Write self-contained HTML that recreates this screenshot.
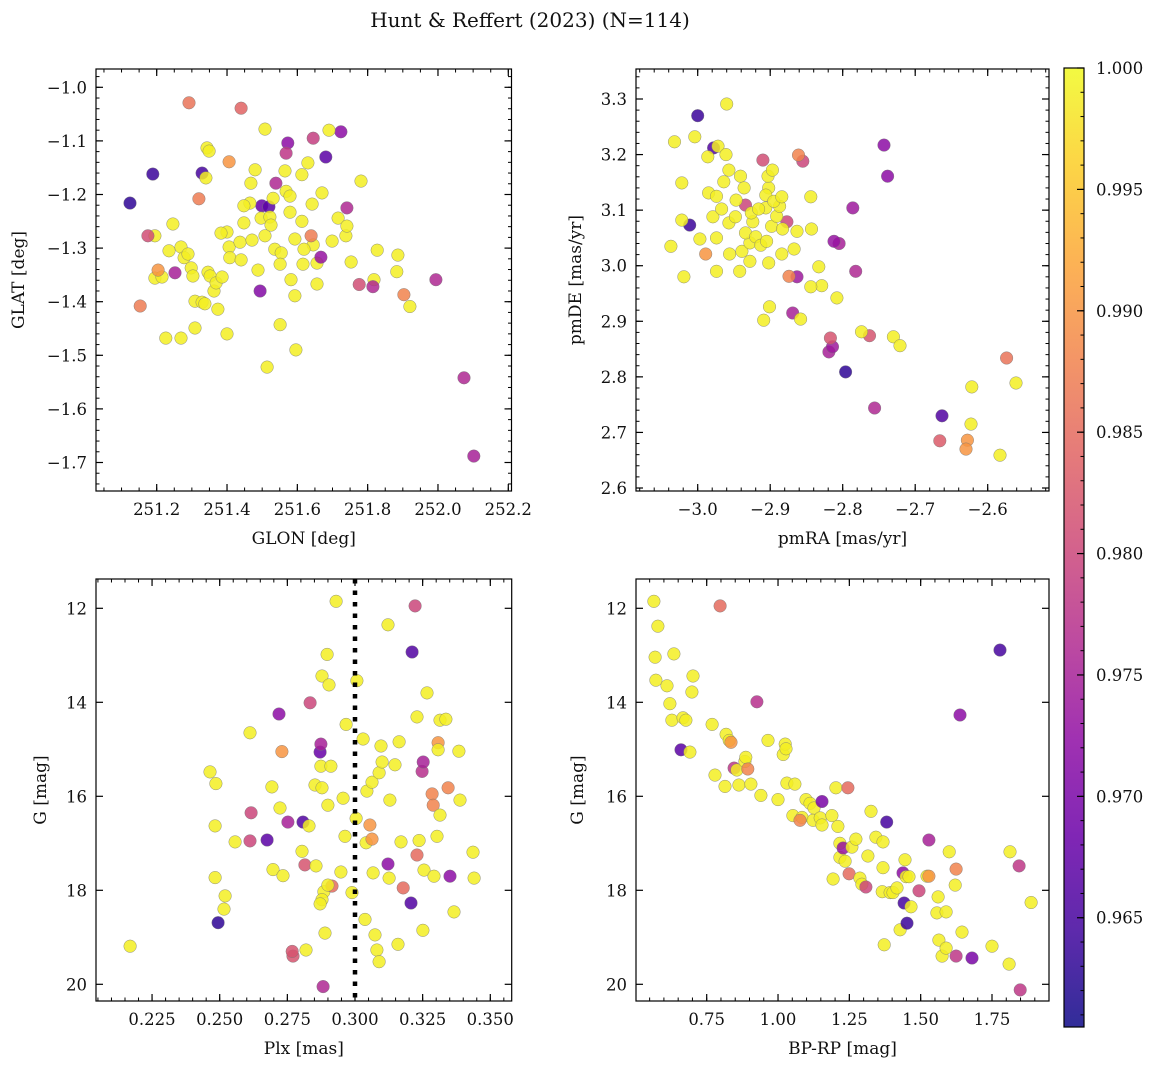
<!DOCTYPE html>
<html><head><meta charset="utf-8"><style>
body{margin:0;background:#fff;}
svg{display:block;font-family:"DejaVu Serif","Liberation Serif",serif;}
</style></head><body>
<svg id="fig" width="1161" height="1068" viewBox="0 0 1161 1068" xmlns="http://www.w3.org/2000/svg">
<text x="530" y="27" font-size="20" text-anchor="middle" fill="#111">Hunt &amp; Reffert (2023) (N=114)</text>
</svg>
<script>
// ---- data (each point: [x, y, membership probability]) ----
const skyPoints = [
[251.124,-1.216,.963],[251.189,-1.162,.964],[251.292,-1.029,.986],[251.440,-1.039,.984],[251.329,-1.160,.965],
[251.340,-1.169,.999],[251.343,-1.113,.999],[251.349,-1.119,.999],[251.406,-1.139,.99],[251.320,-1.208,.987],
[251.508,-1.078,.999],[251.573,-1.104,.972],[251.568,-1.123,.978],[251.645,-1.095,.979],[251.724,-1.083,.972],
[251.681,-1.130,.967],[251.690,-1.080,.999],[251.539,-1.179,.976],[251.499,-1.221,.968],[251.519,-1.223,.967],
[251.480,-1.154,.999],[251.246,-1.255,.999],[251.195,-1.277,.999],[251.175,-1.277,.981],[251.195,-1.356,.999],
[251.215,-1.354,.999],[251.235,-1.305,.999],[251.269,-1.298,.999],[251.278,-1.318,.999],[251.289,-1.311,.999],
[251.298,-1.337,.999],[251.303,-1.352,.999],[251.309,-1.399,.999],[251.269,-1.468,.999],[251.226,-1.468,.999],
[251.309,-1.449,.999],[251.329,-1.401,.999],[251.337,-1.404,.999],[251.346,-1.345,.999],[251.352,-1.352,.999],
[251.363,-1.380,.999],[251.369,-1.365,.999],[251.374,-1.414,.999],[251.386,-1.354,.999],[251.400,-1.270,.999],
[251.406,-1.298,.999],[251.408,-1.318,.999],[251.383,-1.272,.999],[251.400,-1.460,.999],[251.437,-1.289,.999],
[251.440,-1.322,.999],[251.448,-1.253,.999],[251.465,-1.216,.999],[251.471,-1.285,.999],[251.488,-1.341,.999],
[251.497,-1.244,.999],[251.508,-1.277,.999],[251.522,-1.242,.999],[251.531,-1.207,.999],[251.536,-1.302,.999],
[251.554,-1.309,.999],[251.551,-1.330,.999],[251.568,-1.194,.999],[251.579,-1.233,.999],[251.565,-1.156,.999],
[251.582,-1.359,.999],[251.593,-1.389,.999],[251.616,-1.330,.999],[251.613,-1.250,.999],[251.593,-1.283,.999],
[251.642,-1.218,.999],[251.645,-1.294,.999],[251.656,-1.328,.999],[251.630,-1.141,.999],[251.670,-1.197,.999],
[251.699,-1.287,.999],[251.716,-1.244,.999],[251.738,-1.277,.999],[251.741,-1.259,.999],[251.781,-1.175,.999],
[251.753,-1.326,.999],[251.827,-1.304,.999],[251.818,-1.359,.999],[251.886,-1.313,.999],[251.883,-1.344,.999],
[251.920,-1.409,.999],[251.656,-1.367,.999],[251.514,-1.522,.999],[251.551,-1.443,.999],[251.596,-1.490,.999],
[251.525,-1.257,.999],[251.579,-1.203,.999],[251.619,-1.302,.999],[251.468,-1.179,.999],[251.613,-1.163,.999],
[251.448,-1.221,.999],[251.153,-1.408,.987],[251.252,-1.346,.975],[251.639,-1.277,.987],[251.776,-1.368,.981],
[251.815,-1.372,.976],[251.741,-1.225,.976],[251.903,-1.387,.988],[251.994,-1.359,.976],[252.074,-1.542,.976],
[252.102,-1.688,.975],[251.667,-1.317,.973],[251.494,-1.380,.971],[251.204,-1.341,.99]
];
const pmPoints = [
[-3.0,3.27,.964],[-3.011,3.073,.964],[-2.978,3.212,.966],[-2.796,2.809,.963],[-2.663,2.730,.966],
[-2.743,3.217,.972],[-2.738,3.161,.972],[-2.786,3.104,.974],[-2.782,2.99,.976],[-2.805,3.04,.975],
[-2.812,3.044,.973],[-2.863,2.98,.974],[-2.869,2.915,.975],[-2.819,2.845,.975],[-2.814,2.854,.974],
[-2.756,2.744,.976],[-2.91,3.19,.981],[-2.855,3.188,.98],[-2.763,2.874,.982],[-2.817,2.87,.982],
[-2.666,2.685,.983],[-2.574,2.834,.986],[-2.877,3.079,.98],[-2.934,3.109,.98],[-2.861,3.199,.988],
[-2.989,3.021,.99],[-2.874,2.981,.988],[-2.628,2.686,.99],[-2.63,2.67,.99],
[-2.96,3.291,.999],[-3.032,3.223,.999],[-3.004,3.232,.999],[-2.972,3.215,.999],[-3.022,3.149,.999],
[-3.037,3.035,.999],[-3.019,2.98,.999],[-3.022,3.082,.999],[-2.997,3.048,.999],[-2.979,3.088,.999],
[-2.985,3.131,.999],[-2.974,3.125,.999],[-2.964,3.151,.999],[-2.986,3.196,.999],[-2.961,3.2,.999],
[-2.957,3.172,.999],[-2.941,3.161,.999],[-2.936,3.14,.999],[-2.947,3.118,.999],[-2.967,3.102,.999],
[-2.957,3.077,.999],[-2.948,3.088,.999],[-2.974,3.05,.999],[-2.956,3.021,.999],[-2.939,3.026,.999],
[-2.928,3.041,.999],[-2.934,3.059,.999],[-2.924,3.079,.999],[-2.92,3.052,.999],[-2.913,3.037,.999],
[-2.905,3.044,.999],[-2.898,3.071,.999],[-2.891,3.089,.999],[-2.887,3.107,.999],[-2.906,3.104,.999],
[-2.902,3.14,.999],[-2.903,3.161,.999],[-2.897,3.172,.999],[-2.906,3.127,.999],[-2.895,3.116,.999],
[-2.883,3.066,.999],[-2.884,3.124,.999],[-2.928,3.008,.999],[-2.942,2.99,.999],[-2.974,2.99,.999],
[-2.902,3.005,.999],[-2.884,3.021,.999],[-2.863,3.062,.999],[-2.867,3.03,.999],[-2.844,3.124,.999],
[-2.843,3.066,.999],[-2.833,2.998,.999],[-2.829,2.964,.999],[-2.844,2.962,.999],[-2.858,2.904,.999],
[-2.808,2.942,.999],[-2.901,2.926,.999],[-2.909,2.902,.999],[-2.774,2.881,.999],[-2.73,2.872,.999],
[-2.721,2.856,.999],[-2.623,2.715,.999],[-2.622,2.782,.999],[-2.561,2.789,.999],[-2.583,2.659,.999],
[-2.926,3.095,.999],[-2.916,3.102,.999]
];
const plxPoints = [
[0.2169,19.19,.999],[0.2464,15.48,.999],[0.2486,15.73,.999],[0.2483,16.63,.999],[0.2483,17.73,.999],
[0.2494,18.69,.963],[0.2520,18.12,.999],[0.2516,18.40,.999],[0.2557,16.97,.999],[0.2612,16.95,.98],
[0.2616,16.35,.98],[0.2612,14.65,.999],[0.2675,16.93,.967],[0.2693,15.80,.999],[0.2697,17.56,.999],
[0.2734,17.69,.999],[0.2719,14.25,.972],[0.2730,15.05,.99],[0.2723,16.25,.999],[0.2752,16.55,.975],
[0.2771,19.40,.982],[0.2768,19.30,.982],[0.2804,17.17,.999],[0.2819,19.27,.999],[0.2815,17.46,.982],
[0.2808,16.55,.966],[0.2830,16.63,.999],[0.2834,14.01,.98],[0.2852,15.76,.999],[0.2856,17.48,.999],
[0.2871,15.06,.968],[0.2874,14.89,.975],[0.2878,13.44,.999],[0.2874,15.36,.999],[0.2878,15.82,.999],
[0.2885,18.03,.999],[0.2878,18.20,.999],[0.2871,18.29,.999],[0.2889,18.91,.999],[0.2882,20.05,.976],
[0.2897,12.98,.999],[0.2900,16.19,.999],[0.2904,13.63,.999],[0.2911,15.36,.999],[0.2915,17.91,.985],
[0.2900,17.89,.999],[0.2930,11.85,.999],[0.2948,17.61,.999],[0.2956,16.04,.999],[0.2963,16.85,.999],
[0.2967,14.47,.999],[0.3004,16.47,.999],[0.2989,18.05,.999],[0.3007,13.54,.999],[0.3030,14.78,.999],
[0.3041,16.99,.999],[0.3044,15.89,.999],[0.3063,15.70,.999],[0.3055,16.61,.99],[0.3063,16.91,.99],
[0.3067,17.63,.999],[0.3074,18.95,.999],[0.3081,19.27,.999],[0.3089,19.52,.999],[0.3089,15.50,.999],
[0.3096,14.93,.999],[0.3100,15.27,.999],[0.3122,17.44,.972],[0.3126,17.74,.999],[0.3122,12.35,.999],
[0.3129,16.08,.999],[0.3148,15.33,.999],[0.3159,19.15,.999],[0.3163,14.84,.999],[0.3170,16.97,.999],
[0.3178,17.95,.985],[0.3207,18.27,.966],[0.3211,12.93,.966],[0.3222,11.95,.98],[0.3229,14.31,.999],
[0.3229,17.25,.985],[0.3237,16.94,.999],[0.3251,18.85,.999],[0.3248,15.47,.977],[0.3252,15.27,.975],
[0.3255,17.57,.999],[0.3266,13.80,.999],[0.3285,15.95,.988],[0.3289,16.19,.988],[0.3292,17.70,.999],
[0.3303,16.85,.999],[0.3307,14.86,.99],[0.3307,15.01,.999],[0.3314,14.38,.999],[0.3314,16.40,.999],
[0.3336,14.36,.999],[0.3344,15.82,.988],[0.3351,17.70,.972],[0.3366,18.46,.999],[0.3384,15.04,.999],
[0.3388,16.08,.999],[0.3436,17.19,.999],[0.3440,17.74,.999],[0.3037,18.62,.999]
];
const cmdPoints = [
[0.565,11.85,.999],[0.579,12.38,.999],[0.569,13.04,.999],[0.572,13.53,.999],[0.611,13.65,.999],
[0.635,12.97,.999],[0.621,14.03,.999],[0.628,14.38,.999],[0.667,14.33,.999],[0.702,13.44,.999],
[0.698,13.78,.999],[0.660,15.01,.967],[0.691,15.06,.999],[0.677,14.38,.999],[0.769,14.47,.999],
[0.779,15.55,.999],[0.814,15.79,.999],[0.818,14.68,.999],[0.797,11.95,.985],[0.829,14.81,.999],
[0.835,14.85,.99],[0.846,15.40,.978],[0.856,15.44,.999],[0.863,15.76,.999],[0.884,15.26,.999],
[0.887,15.17,.999],[0.894,15.42,.988],[0.905,15.74,.999],[0.926,13.99,.977],[0.940,15.98,.999],
[0.965,14.81,.999],[1.0,16.07,.999],[1.018,15.11,.999],[1.025,14.89,.999],[1.028,14.99,.999],
[1.031,15.72,.999],[1.052,16.41,.999],[1.059,15.74,.999],[1.084,16.45,.999],[1.098,16.07,.999],
[1.112,16.15,.999],[1.126,16.25,.999],[1.123,16.51,.999],[1.148,16.46,.999],[1.154,16.11,.97],
[1.077,16.51,.988],[1.154,16.61,.999],[1.189,16.41,.999],[1.193,17.76,.999],[1.203,15.82,.999],
[1.210,16.64,.999],[1.217,17.00,.999],[1.217,17.30,.999],[1.228,17.10,.973],[1.245,15.82,.985],
[1.235,17.38,.999],[1.259,17.08,.999],[1.249,17.65,.985],[1.273,16.91,.999],[1.287,17.74,.999],
[1.294,17.87,.999],[1.308,17.93,.98],[1.315,17.27,.999],[1.343,16.87,.999],[1.326,16.32,.999],
[1.368,16.97,.999],[1.368,17.52,.999],[1.381,16.55,.965],[1.365,18.03,.999],[1.372,19.16,.999],
[1.393,18.05,.999],[1.403,18.05,.999],[1.417,17.95,.999],[1.428,18.84,.999],[1.438,17.63,.972],
[1.442,18.27,.965],[1.449,17.71,.999],[1.452,18.70,.964],[1.445,17.35,.999],[1.459,17.71,.999],
[1.466,18.35,.999],[1.494,18.01,.98],[1.522,17.70,.999],[1.529,17.70,.99],[1.529,16.93,.975],
[1.557,18.48,.999],[1.561,18.14,.999],[1.564,19.06,.999],[1.575,19.40,.999],[1.589,18.46,.999],
[1.589,19.23,.999],[1.600,17.18,.999],[1.621,17.89,.999],[1.624,17.55,.988],[1.624,19.40,.978],
[1.645,18.89,.999],[1.638,14.27,.972],[1.680,19.44,.97],[1.778,12.89,.965],[1.750,19.19,.999],
[1.810,19.57,.999],[1.813,17.18,.999],[1.845,17.48,.978],[1.887,18.26,.999],[1.849,20.12,.978]
];
const skyXTicks = [251.2,251.4,251.6,251.8,252.0,252.2];
const skyYTicks = [-1.0,-1.1,-1.2,-1.3,-1.4,-1.5,-1.6,-1.7];
const pmXTicks = [-3.0,-2.9,-2.8,-2.7,-2.6];
const pmYTicks = [2.6,2.7,2.8,2.9,3.0,3.1,3.2,3.3];
const plxXTicks = [0.225,0.250,0.275,0.300,0.325,0.350];
const magTicks = [12,14,16,18,20];
const cmdXTicks = [0.75,1.00,1.25,1.50,1.75];
const cbarTicks = [0.965,0.970,0.975,0.980,0.985,0.990,0.995,1.000];
const plxCut = 0.300;

const NS='http://www.w3.org/2000/svg';
const svg=document.getElementById('fig');
function mk(tag,attrs,parent){const e=document.createElementNS(NS,tag);for(const k in attrs)e.setAttribute(k,attrs[k]);(parent||svg).appendChild(e);return e;}

const plasma=[[13,8,135],[65,4,157],[106,0,168],[143,13,164],[177,42,144],[204,71,120],[225,100,98],[242,132,75],[252,166,54],[252,206,37],[240,249,33]];
const vmin=0.9605,vmax=1.0;
function cmap(v){let t=(v-vmin)/(vmax-vmin);t=Math.max(0,Math.min(1,t));const f=t*10,i=Math.min(9,Math.floor(f)),r=f-i;const a=plasma[i],b=plasma[i+1];return 'rgb('+[0,1,2].map(k=>Math.round(a[k]+(b[k]-a[k])*r)).join(',')+')';}

function fmt(v,d){return (v<0?'\u2212':'')+Math.abs(v).toFixed(d);}

function panel(o){
  const g=mk('g',{});
  
  
  const sx=v=>o.L+(v-o.x0)/(o.x1-o.x0)*(o.R-o.L);
  const sy=v=>o.B-(v-o.y0)/(o.y1-o.y0)*(o.B-o.T);
  // points
  o.pts.forEach(p=>{
    const c=mk('circle',{cx:sx(p[0]).toFixed(1),cy:sy(p[1]).toFixed(1),r:6.3,fill:cmap(p[2]),'fill-opacity':0.85,stroke:'#777','stroke-width':0.5,'stroke-opacity':0.8},g);
    
    
  });
  if(o.vline!==undefined){
    const l=mk('line',{x1:sx(o.vline),x2:sx(o.vline),y1:o.T,y2:o.B,stroke:'#000','stroke-width':4.5,'stroke-dasharray':'4.5 7'},g);
    
    
  }
  // frame
  const fr=mk('rect',{x:o.L,y:o.T,width:o.R-o.L,height:o.B-o.T,fill:'none',stroke:'#000','stroke-width':1.2},g);
  
  
  // minor ticks
  const eps=1e-9;
  for(let v=Math.ceil(o.x0/o.xm-eps)*o.xm; v<=o.x1+eps; v+=o.xm){const x=sx(v);
    mk('line',{x1:x,x2:x,y1:o.B,y2:o.B-3.5,stroke:'#000','stroke-width':1},g);mk('line',{x1:x,x2:x,y1:o.T,y2:o.T+3.5,stroke:'#000','stroke-width':1},g);}
  for(let v=Math.ceil(o.y0/o.ym-eps)*o.ym; v<=o.y1+eps; v+=o.ym){const y=sy(v);
    mk('line',{x1:o.L,x2:o.L+3.5,y1:y,y2:y,stroke:'#000','stroke-width':1},g);mk('line',{x1:o.R,x2:o.R-3.5,y1:y,y2:y,stroke:'#000','stroke-width':1},g);}
  o.xt.forEach(v=>{const x=sx(v);
    mk('line',{x1:x,x2:x,y1:o.B,y2:o.B-7,stroke:'#000','stroke-width':1.2},g);mk('line',{x1:x,x2:x,y1:o.T,y2:o.T+7,stroke:'#000','stroke-width':1.2},g);
    const t=mk('text',{x:x,y:o.B+24,'font-size':16.5,'text-anchor':'middle',fill:'#111'},g);t.textContent=fmt(v,o.xd);
    
    
  });
  o.yt.forEach(v=>{const y=sy(v);
    mk('line',{x1:o.L,x2:o.L+7,y1:y,y2:y,stroke:'#000','stroke-width':1.2},g);mk('line',{x1:o.R,x2:o.R-7,y1:y,y2:y,stroke:'#000','stroke-width':1.2},g);
    const t=mk('text',{x:o.L-9,y:y+6,'font-size':16.5,'text-anchor':'end',fill:'#111'},g);t.textContent=fmt(v,o.yd);
    
    
  });
  const xl=mk('text',{x:(o.L+o.R)/2,y:o.B+53,'font-size':17,'text-anchor':'middle',fill:'#111'},g);xl.textContent=o.xlab;
  
  
  const yx=o.ylx, yy=(o.T+o.B)/2;
  const yl=mk('text',{x:yx,y:yy,'font-size':17,'text-anchor':'middle',fill:'#111',transform:'rotate(-90 '+yx+' '+yy+')'},g);yl.textContent=o.ylab;
  
  
}

panel({name:'sky-position-panel',L:96,R:511.5,T:69,B:491,x0:251.2-60.7/351.6,x1:251.2+354.8/351.6,y0:-1.0-(491-87.3)/536,y1:-1.0+(87.3-69)/536,
  xt:skyXTicks,yt:skyYTicks,xm:0.05,ym:0.02,xd:1,yd:1,pts:skyPoints,xlab:'GLON [deg]',ylab:'GLAT [deg]',ylx:24});
panel({name:'proper-motion-panel',L:636,R:1049,T:69,B:491,x0:-3.0-61.7/725,x1:-3.0+351.3/725,y0:2.6-(491-488)/555.7,y1:3.3+(99-69)/555.7,
  xt:pmXTicks,yt:pmYTicks,xm:0.02,ym:0.02,xd:1,yd:1,pts:pmPoints,xlab:'pmRA [mas/yr]',ylab:'pmDE [mas/yr]',ylx:581});
const gA=12+(608.3-579)/47, gB=12+(1001-608.3)/47;
panel({name:'parallax-magnitude-panel',L:96,R:511.7,T:579,B:1001,x0:0.3-259/2706,x1:0.3+156.7/2706,y0:gB,y1:12-(608.3-579)/47,
  xt:plxXTicks,yt:magTicks,xm:0.005,ym:0.5,xd:3,yd:0,pts:plxPoints,xlab:'Plx [mas]',ylab:'G [mag]',ylx:46,vline:plxCut});
panel({name:'color-magnitude-panel',L:636,R:1049,T:579,B:1001,x0:0.75-70.7/285.3,x1:0.75+342.3/285.3,y0:gB,y1:12-(608.3-579)/47,
  xt:cmdXTicks,yt:magTicks,xm:0.05,ym:0.5,xd:2,yd:0,pts:cmdPoints,xlab:'BP-RP [mag]',ylab:'G [mag]',ylx:583});

// colorbar
(function(){
  const L=1064,R=1084,T=68,B=1027;
  const defs=mk('defs',{});
  const lg=mk('linearGradient',{id:'pl',x1:0,y1:1,x2:0,y2:0},defs);
  plasma.forEach((c,i)=>mk('stop',{offset:i/10,'stop-color':'rgb('+c.join(',')+')','stop-opacity':0.85},lg));
  const r=mk('rect',{x:L,y:T,width:R-L,height:B-T,fill:'url(#pl)',stroke:'#000','stroke-width':1.2});
  
  
  const sy=v=>B-(v-vmin)/(vmax-vmin)*(B-T);
  for(let v=0.961;v<=1.0005;v+=0.001){const y=sy(v);mk('line',{x1:R,x2:R-3.5,y1:y,y2:y,stroke:'#000','stroke-width':1});}
  cbarTicks.forEach(v=>{const y=sy(v);
    mk('line',{x1:R,x2:R-7,y1:y,y2:y,stroke:'#000','stroke-width':1.2});
    const t=mk('text',{x:R+12,y:y+6,'font-size':16.5,fill:'#111'});t.textContent=v.toFixed(3);
    
    
  });
})();
</script>
</body></html>
